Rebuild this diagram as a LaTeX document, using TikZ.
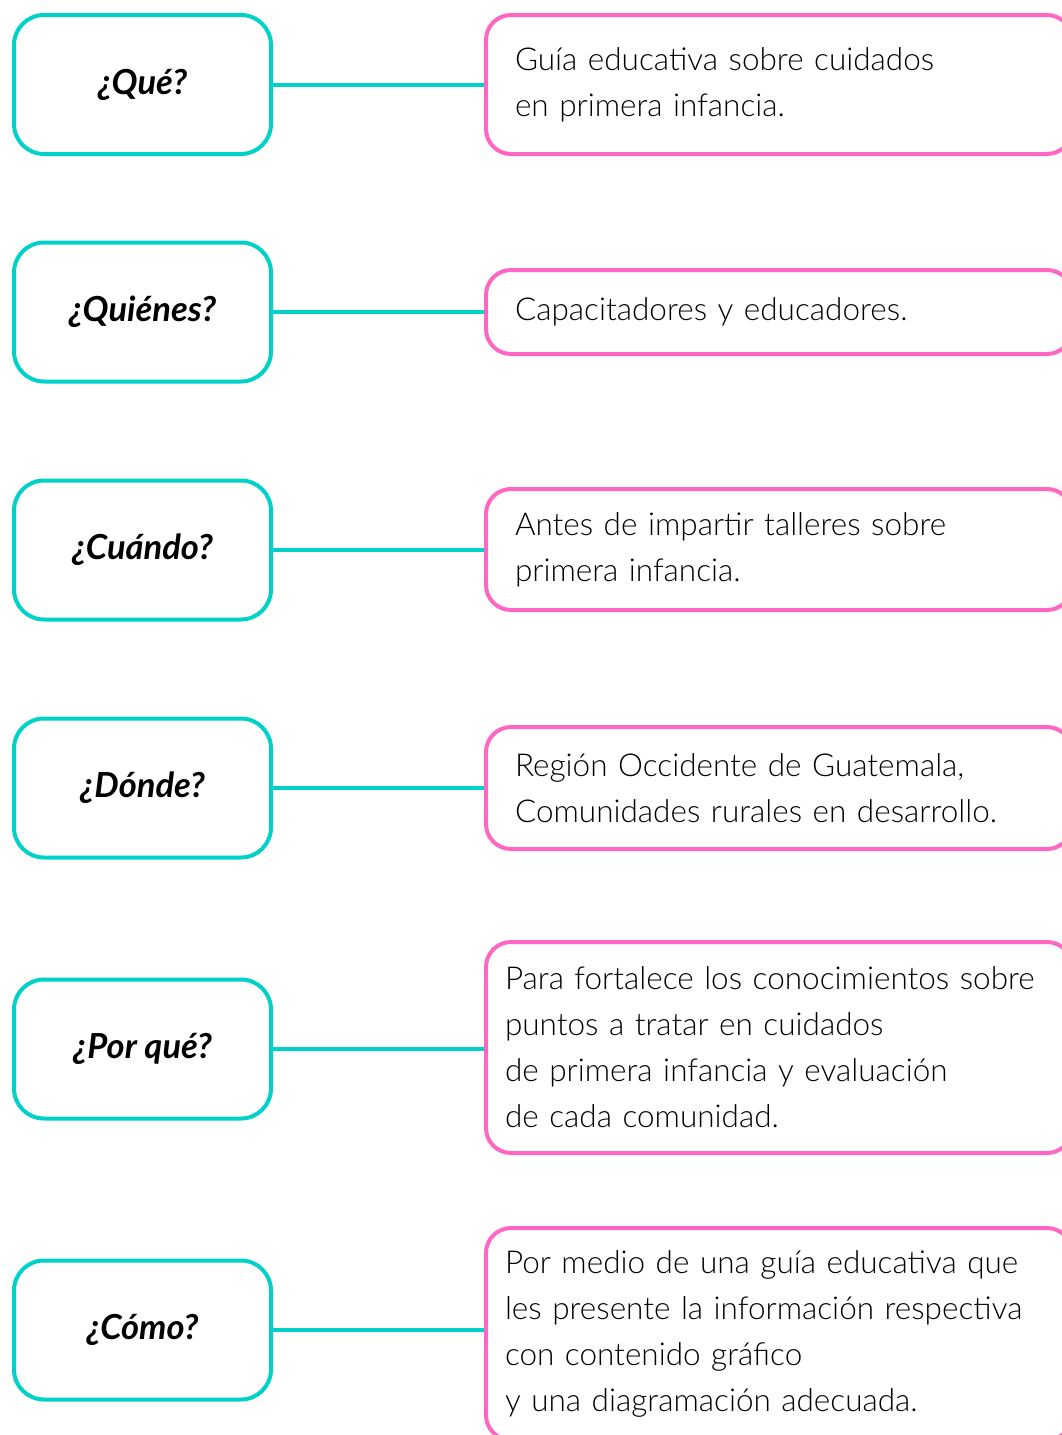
\documentclass[tikz,border=0pt]{standalone}
\usepackage{fontspec}
\setmainfont{Lato}
\newfontfamily\lightfont{Lato Light}
\usetikzlibrary{positioning}
\definecolor{turq}{HTML}{00D1C9}
\definecolor{rosa}{HTML}{FF66C4}
\tikzset{
  qbox/.style={draw=turq, line width=4pt, rounded corners=30pt, minimum width=257pt, minimum height=139pt, font=\fontsize{34.5}{40}\selectfont\bfseries\itshape},
  abox/.style={draw=rosa, line width=4pt, rounded corners=25pt, anchor=west, text width=528pt, inner xsep=29pt, align=left, font=\lightfont\fontsize{31.5}{46}\selectfont},
  link/.style={draw=turq, line width=4pt}
}
\begin{document}
\begin{tikzpicture}[x=1pt,y=-1pt]
\path[use as bounding box, clip] (0,0) rectangle (1062,1435);
\fill[white] (0,0) rectangle (1062,1435);

% preguntas
\node [qbox] (que) at (142.5,84.5) {¿Qué?};
\node [qbox] (quienes) at (142.5,312) {¿Quiénes?};
\node [qbox] (cuando) at (142.5,550) {¿Cuándo?};
\node [qbox] (donde) at (142.5,788) {¿Dónde?};
\node [qbox] (porque) at (142.5,1049) {¿Por qué?};
\node [qbox] (como) at (142.5,1330) {¿Cómo?};

% respuestas
\node [abox, minimum height=139pt] (guia) at (484,84.5) {Guía educativa sobre cuidados\\en primera infancia.};
\node [abox, minimum height=84pt] (capacitadores) at (484,312) {Capacitadores y educadores.};
\node [abox, minimum height=121pt] (antes) at (484,549.5) {Antes de impartir talleres sobre\\primera infancia.};
\node [abox, minimum height=122pt] (region) at (484,788) {Región Occidente de Guatemala,\\Comunidades rurales en desarrollo.};
\node [abox, minimum height=211pt, inner xsep=19pt, text width=548pt] (fortalecer) at (484,1047.5) {Para fortalece los conocimientos sobre\\puntos a tratar en cuidados\\de primera infancia y evaluación\\de cada comunidad.};
\node [abox, minimum height=212pt, inner xsep=19pt, text width=548pt] (medio) at (484,1334) {Por medio de una guía educativa que\\les presente la información respectiva\\con contenido gráfico\\y una diagramación adecuada.};

% conectores
\draw [link] (que.east) -- (que.east -| guia.west);
\draw [link] (quienes.east) -- (quienes.east -| capacitadores.west);
\draw [link] (cuando.east) -- (cuando.east -| antes.west);
\draw [link] (donde.east) -- (donde.east -| region.west);
\draw [link] (porque.east) -- (porque.east -| fortalecer.west);
\draw [link] (como.east) -- (como.east -| medio.west);
\end{tikzpicture}
\end{document}
